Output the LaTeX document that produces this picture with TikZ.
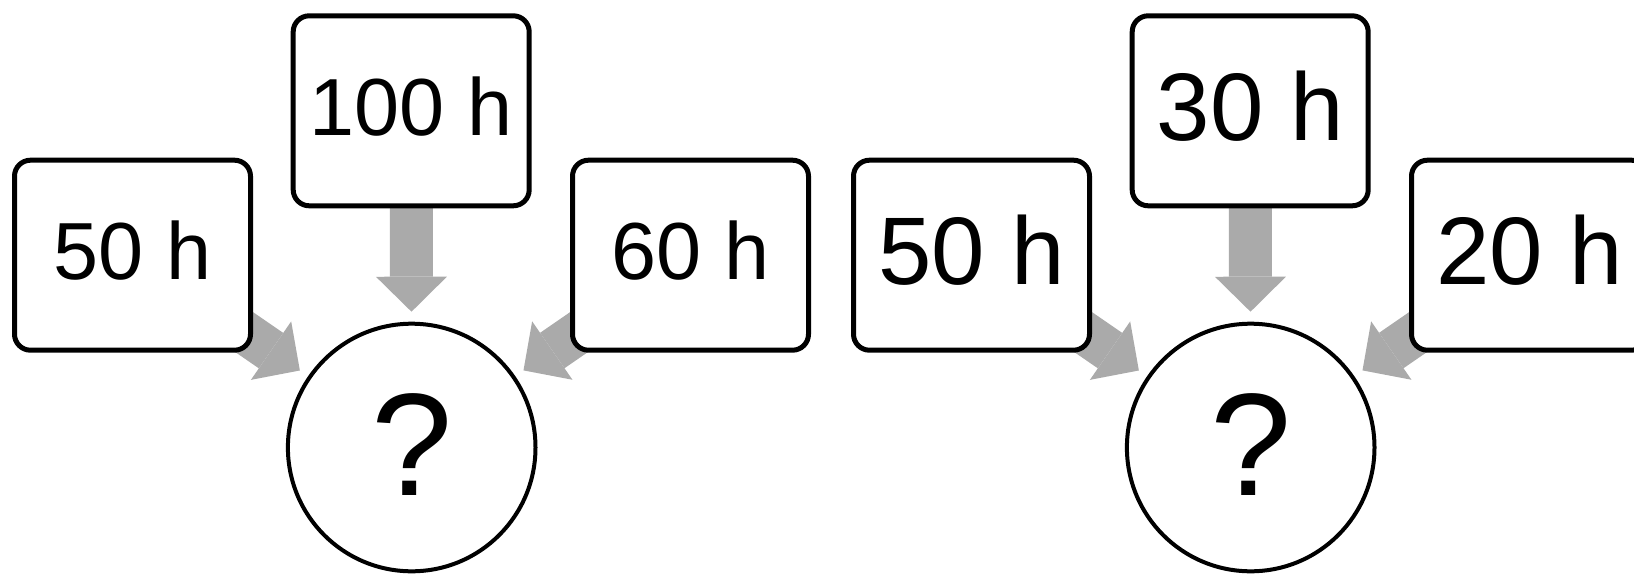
\documentclass[tikz,border=0pt]{standalone}
\usepackage{fontspec}
\setmainfont{Liberation Sans}
\usetikzlibrary{arrows.meta,backgrounds}
\definecolor{arrowgray}{RGB}{170,170,170}
\tikzset{
  tbox/.style={draw=black, line width=2.5pt, rounded corners=8pt, fill=white,
    minimum width=118pt, minimum height=95pt, inner sep=0pt, text depth=5pt},
  qcirc/.style={circle, draw=black, line width=2pt, fill=white, minimum size=123.8pt,
    inner sep=0pt, font=\fontsize{73}{80}\selectfont, text depth=3pt},
  garrow/.style={draw=arrowgray, line width=21.5pt,
    -{Triangle[length=17.5pt,width=35.5pt,line width=0pt]}, shorten >=5pt},
  smallfont/.style={font=\fontsize{40.5}{48}\selectfont},
  bigfont/.style={font=\fontsize{48}{56}\selectfont},
}
\begin{document}
\begin{tikzpicture}[x=0.5pt,y=-0.5pt]
\useasboundingbox (0,0) rectangle (1634,574);
\clip (0,0) rectangle (1634,574);
% left group
\node[tbox,smallfont] (l50) at (132.5,255.2) {50 h};
\node[tbox,smallfont] (l100) at (411.2,110.8) {100 h};
\node[tbox,smallfont] (l60) at (690.5,255.2) {60 h};
\node[qcirc] (lq) at (411.7,447.5) {?};
% right group
\node[tbox,bigfont] (r50) at (971.5,255.2) {50 h};
\node[tbox,bigfont] (r30) at (1250.2,110.8) {30 h};
\node[tbox,bigfont] (r20) at (1529.5,255.2) {20 h};
\node[qcirc] (rq) at (1250.7,447.5) {?};
\begin{scope}[on background layer]
  \draw[garrow] (l50.center) -- (lq);
  \draw[garrow] (l100.center) -- (lq);
  \draw[garrow] (l60.center) -- (lq);
  \draw[garrow] (r50.center) -- (rq);
  \draw[garrow] (r30.center) -- (rq);
  \draw[garrow] (r20.center) -- (rq);
\end{scope}
\end{tikzpicture}
\end{document}
